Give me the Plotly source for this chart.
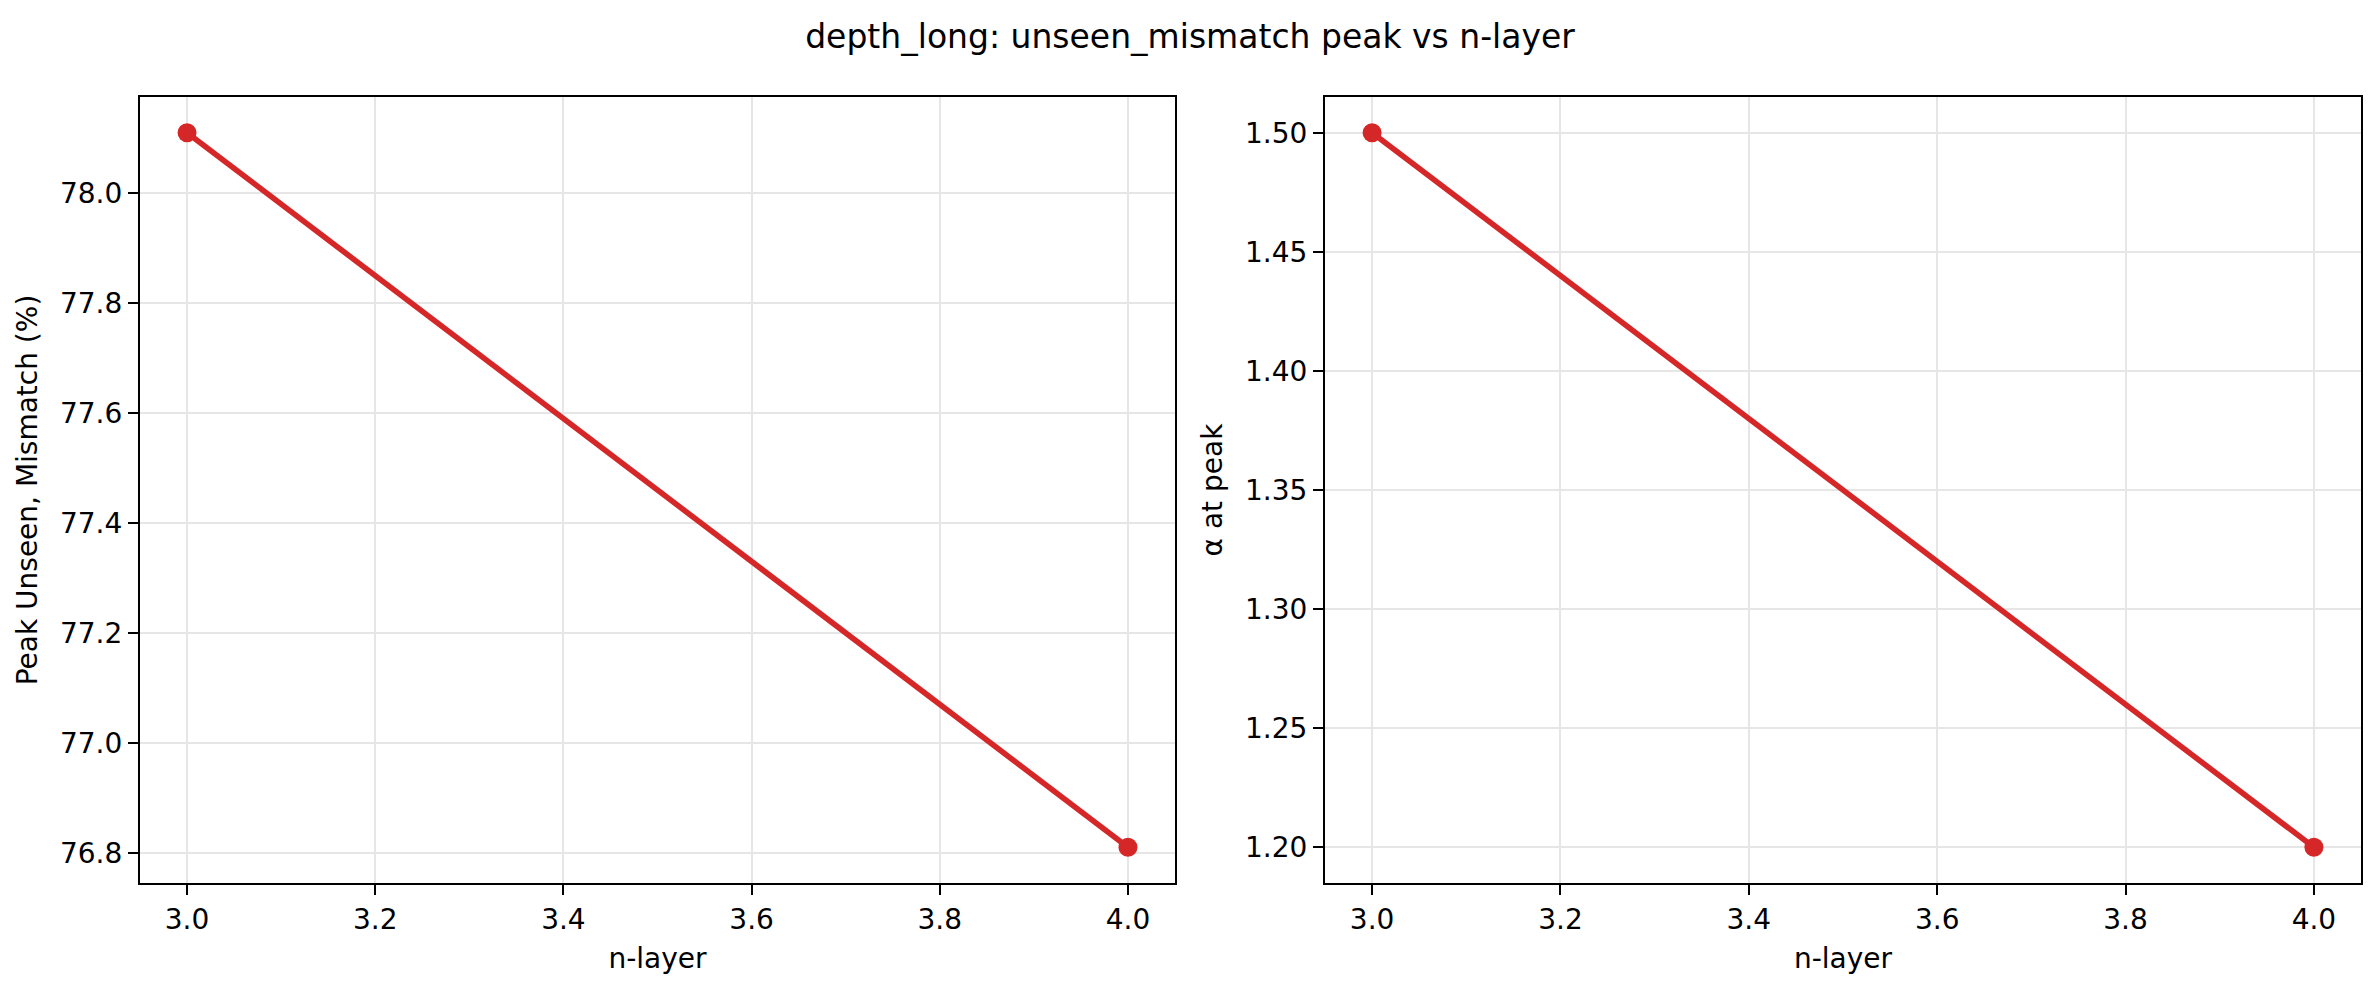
import plotly.graph_objects as go
from plotly.subplots import make_subplots

n_layer = [3, 4]
peak_unseen_mismatch = [78.11, 76.81]
alpha_at_peak = [1.50, 1.20]

title_text = "depth_long: unseen_mismatch peak vs n-layer"
x_label = "n-layer"
y1_label = "Peak Unseen, Mismatch (%)"
y2_label = "α at peak"

RED = "#d62728"
FONT = "DejaVu Sans"
W, H = 2380, 990

fig = make_subplots(rows=1, cols=2)

fig.add_trace(go.Scatter(x=n_layer, y=peak_unseen_mismatch, mode="lines+markers",
                         line=dict(color=RED, width=5.6),
                         marker=dict(color=RED, size=19), showlegend=False), row=1, col=1)
fig.add_trace(go.Scatter(x=n_layer, y=alpha_at_peak, mode="lines+markers",
                         line=dict(color=RED, width=5.6),
                         marker=dict(color=RED, size=19), showlegend=False), row=1, col=2)

axis_common = dict(showline=True, mirror=True, linecolor="black", linewidth=2.2,
                   ticks="outside", ticklen=10, tickwidth=2.2, tickcolor="black",
                   showgrid=True, gridcolor="#e6e6e6", gridwidth=2.2, zeroline=False,
                   tickfont=dict(family=FONT, size=28, color="black"),
                   automargin=False)

y_dom = [1 - 883 / H, 1 - 97 / H]

fig.update_layout(
    width=W, height=H, margin=dict(l=0, r=0, t=0, b=0),
    paper_bgcolor="white", plot_bgcolor="white",
    font=dict(family=FONT, color="black"),
    title=dict(text=title_text, x=0.5, xanchor="center", y=1 - 36 / H, yanchor="middle",
               font=dict(family=FONT, size=33, color="black")),
    xaxis=dict(domain=[140 / W, 1175 / W], range=[2.95, 4.05], tick0=3.0, dtick=0.2,
               tickformat=".1f", title=dict(text=x_label, font=dict(family=FONT, size=28), standoff=14),
               **axis_common),
    xaxis2=dict(domain=[1325 / W, 2361 / W], range=[2.95, 4.05], tick0=3.0, dtick=0.2,
                tickformat=".1f", title=dict(text=x_label, font=dict(family=FONT, size=28), standoff=14),
                **axis_common),
    yaxis=dict(domain=y_dom, range=[76.745, 78.175], tick0=76.8, dtick=0.2,
               tickformat=".1f", title=dict(text=y1_label, font=dict(family=FONT, size=28), standoff=14),
               **axis_common),
    yaxis2=dict(domain=y_dom, range=[1.185, 1.515], tick0=1.2, dtick=0.05,
                tickformat=".2f", title=dict(text=y2_label, font=dict(family=FONT, size=28), standoff=14),
                **axis_common),
)

fig.write_html("out.html")
